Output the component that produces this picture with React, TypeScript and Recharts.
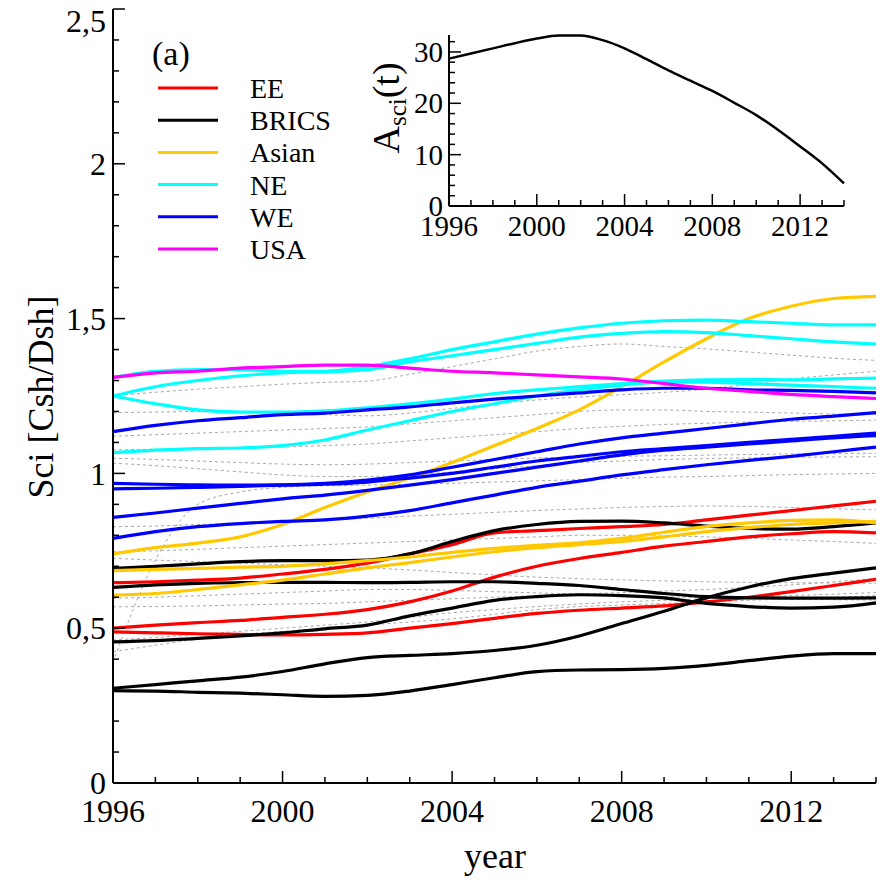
import { LineChart, Line, XAxis, YAxis } from "recharts"

const years = [1996, 1997, 1998, 1999, 2000, 2001, 2002, 2003, 2004, 2005, 2006, 2007, 2008, 2009, 2010, 2011, 2012, 2013, 2014]

// EE
const ee1 = [0.647, 0.65, 0.655, 0.662, 0.675, 0.69, 0.71, 0.74, 0.77, 0.808, 0.815, 0.822, 0.828, 0.835, 0.85, 0.865, 0.88, 0.895, 0.91]
const ee2 = [0.5, 0.51, 0.518, 0.525, 0.535, 0.545, 0.56, 0.585, 0.62, 0.665, 0.7, 0.725, 0.745, 0.765, 0.78, 0.795, 0.805, 0.812, 0.808]
const ee3 = [0.488, 0.485, 0.482, 0.48, 0.478, 0.48, 0.485, 0.5, 0.515, 0.532, 0.548, 0.558, 0.565, 0.572, 0.585, 0.6, 0.618, 0.638, 0.658]

// BRICS
const brics1 = [0.693, 0.7, 0.708, 0.715, 0.718, 0.718, 0.72, 0.74, 0.78, 0.815, 0.835, 0.845, 0.846, 0.84, 0.83, 0.822, 0.82, 0.828, 0.84]
const brics2 = [0.632, 0.64, 0.645, 0.647, 0.648, 0.648, 0.647, 0.648, 0.65, 0.65, 0.645, 0.638, 0.625, 0.612, 0.602, 0.598, 0.597, 0.597, 0.598]
const brics3 = [0.456, 0.46, 0.467, 0.475, 0.485, 0.498, 0.51, 0.54, 0.565, 0.59, 0.602, 0.608, 0.605, 0.598, 0.58, 0.57, 0.565, 0.568, 0.582]
const brics4 = [0.306, 0.318, 0.33, 0.342, 0.36, 0.385, 0.405, 0.412, 0.418, 0.428, 0.445, 0.475, 0.515, 0.555, 0.598, 0.633, 0.66, 0.678, 0.695]
const brics5 = [0.298, 0.297, 0.293, 0.29, 0.285, 0.28, 0.283, 0.297, 0.318, 0.34, 0.36, 0.365, 0.366, 0.37, 0.38, 0.395, 0.41, 0.418, 0.418]

// Asian
const asian1 = [0.74, 0.76, 0.775, 0.795, 0.835, 0.89, 0.94, 0.985, 1.035, 1.09, 1.145, 1.205, 1.28, 1.36, 1.435, 1.5, 1.54, 1.565, 1.572]
const asian2 = [0.686, 0.69, 0.693, 0.697, 0.7, 0.708, 0.718, 0.73, 0.745, 0.758, 0.768, 0.776, 0.79, 0.81, 0.828, 0.84, 0.848, 0.85, 0.84]
const asian3 = [0.607, 0.612, 0.625, 0.64, 0.655, 0.675, 0.695, 0.712, 0.73, 0.747, 0.76, 0.77, 0.78, 0.795, 0.812, 0.825, 0.835, 0.84, 0.845]

// NE
const ne1 = [1.31, 1.33, 1.335, 1.335, 1.33, 1.33, 1.345, 1.37, 1.4, 1.425, 1.45, 1.47, 1.485, 1.493, 1.495, 1.49, 1.485, 1.48, 1.48]
const ne2 = [1.25, 1.28, 1.3, 1.315, 1.325, 1.328, 1.335, 1.36, 1.38, 1.4, 1.42, 1.44, 1.452, 1.458, 1.455, 1.445, 1.435, 1.425, 1.418]
const ne3 = [1.25, 1.225, 1.205, 1.198, 1.198, 1.202, 1.212, 1.225, 1.24, 1.258, 1.27, 1.28, 1.29, 1.298, 1.302, 1.303, 1.302, 1.305, 1.308]
const ne4 = [1.067, 1.075, 1.08, 1.082, 1.09, 1.108, 1.14, 1.17, 1.2, 1.225, 1.25, 1.27, 1.285, 1.295, 1.295, 1.29, 1.285, 1.28, 1.275]

// WE
const we1 = [1.135, 1.155, 1.17, 1.18, 1.19, 1.195, 1.205, 1.215, 1.228, 1.24, 1.25, 1.26, 1.27, 1.275, 1.275, 1.27, 1.268, 1.265, 1.26]
const we2 = [0.968, 0.965, 0.963, 0.962, 0.963, 0.968, 0.978, 0.995, 1.02, 1.045, 1.07, 1.095, 1.115, 1.13, 1.145, 1.16, 1.175, 1.185, 1.196]
const we3 = [0.95, 0.952, 0.955, 0.958, 0.962, 0.965, 0.972, 0.985, 1.0, 1.02, 1.04, 1.055, 1.07, 1.08, 1.09, 1.1, 1.11, 1.12, 1.13]
const we4 = [0.858, 0.872, 0.888, 0.903, 0.918, 0.93, 0.945, 0.962, 0.98, 1.0, 1.02, 1.04, 1.06, 1.075, 1.085, 1.095, 1.105, 1.115, 1.122]
const we5 = [0.79, 0.812, 0.828, 0.838, 0.845, 0.85, 0.862, 0.88, 0.905, 0.93, 0.955, 0.975, 0.995, 1.012, 1.028, 1.042, 1.055, 1.07, 1.085]

// USA
const usa = [1.31, 1.325, 1.33, 1.34, 1.345, 1.35, 1.35, 1.34, 1.33, 1.325, 1.318, 1.312, 1.305, 1.29, 1.275, 1.265, 1.255, 1.248, 1.242]

// other countries (grey dotted)
const other1 = [1.25, 1.262, 1.272, 1.28, 1.288, 1.294, 1.298, 1.32, 1.345, 1.37, 1.395, 1.41, 1.418, 1.41, 1.402, 1.392, 1.382, 1.372, 1.365]
const other2 = [1.196, 1.198, 1.2, 1.198, 1.195, 1.19, 1.186, 1.195, 1.21, 1.225, 1.237, 1.247, 1.254, 1.262, 1.272, 1.288, 1.305, 1.318, 1.33]
const other3 = [1.12, 1.125, 1.13, 1.135, 1.14, 1.145, 1.15, 1.16, 1.17, 1.18, 1.19, 1.2, 1.205, 1.205, 1.2, 1.198, 1.195, 1.192, 1.19]
const other4 = [1.076, 1.078, 1.08, 1.082, 1.085, 1.09, 1.095, 1.105, 1.115, 1.125, 1.135, 1.145, 1.152, 1.158, 1.162, 1.166, 1.168, 1.17, 1.172]
const other5 = [1.049, 1.045, 1.04, 1.035, 1.03, 1.028, 1.03, 1.035, 1.04, 1.045, 1.05, 1.052, 1.055, 1.057, 1.059, 1.061, 1.063, 1.064, 1.065]
const other6 = [1.033, 1.025, 1.015, 1.005, 0.995, 0.99, 0.99, 0.995, 1.005, 1.015, 1.025, 1.035, 1.04, 1.045, 1.048, 1.05, 1.052, 1.053, 1.054]
const other7 = [0.39, 0.72, 0.9, 0.94, 0.955, 0.96, 0.962, 0.965, 0.968, 0.972, 0.976, 0.98, 0.984, 0.988, 0.99, 0.993, 0.996, 0.998, 1.0]
const other8 = [0.828, 0.83, 0.835, 0.84, 0.845, 0.85, 0.855, 0.862, 0.868, 0.874, 0.88, 0.885, 0.89, 0.893, 0.895, 0.893, 0.89, 0.886, 0.882]
const other9 = [0.747, 0.75, 0.755, 0.76, 0.765, 0.77, 0.775, 0.78, 0.785, 0.79, 0.795, 0.8, 0.8, 0.798, 0.795, 0.79, 0.785, 0.78, 0.774]
const other10 = [0.726, 0.72, 0.715, 0.71, 0.705, 0.7, 0.695, 0.688, 0.68, 0.672, 0.665, 0.66, 0.656, 0.653, 0.65, 0.648, 0.647, 0.646, 0.645]
const other11 = [0.597, 0.6, 0.605, 0.61, 0.615, 0.62, 0.625, 0.625, 0.622, 0.618, 0.614, 0.61, 0.606, 0.602, 0.598, 0.595, 0.593, 0.592, 0.591]
const other12 = [0.569, 0.57, 0.572, 0.575, 0.578, 0.58, 0.585, 0.59, 0.595, 0.6, 0.605, 0.61, 0.615, 0.62, 0.625, 0.632, 0.64, 0.65, 0.66]
const other13 = [0.462, 0.47, 0.48, 0.49, 0.5, 0.51, 0.52, 0.535, 0.55, 0.56, 0.57, 0.578, 0.585, 0.59, 0.595, 0.6, 0.605, 0.61, 0.615]
const other14 = [0.424, 0.445, 0.465, 0.48, 0.49, 0.5, 0.51, 0.52, 0.53, 0.545, 0.56, 0.57, 0.575, 0.58, 0.585, 0.59, 0.595, 0.6, 0.605]

// inset: A_sci(t)
const asci = [28.7, 29.7, 30.7, 31.7, 32.6, 33.2, 33.2, 32.3, 30.7, 28.6, 26.4, 24.4, 22.4, 20.1, 17.7, 14.8, 11.6, 8.3, 4.4]

const yearTicks = years
const yTicks = Array.from({ length: 26 }, (_, i) => i / 10)
const insetYTicks = [0, 2, 4, 6, 8, 10, 12, 14, 16, 18, 20, 22, 24, 26, 28, 30, 32]

const groups = [
  { name: "EE", color: "#ff0000", series: [ee1, ee2, ee3] },
  { name: "BRICS", color: "#000000", series: [brics1, brics2, brics3, brics4, brics5] },
  { name: "Asian", color: "#ffc800", series: [asian1, asian2, asian3] },
  { name: "NE", color: "#00ffff", series: [ne1, ne2, ne3, ne4] },
  { name: "WE", color: "#0000ff", series: [we1, we2, we3, we4, we5] },
  { name: "USA", color: "#ff00ff", series: [usa] },
]
const others = [other1, other2, other3, other4, other5, other6, other7, other8, other9, other10, other11, other12, other13, other14]

const FONT = '"Liberation Serif", "Times New Roman", serif'

const chartData = years.map((year, i) => {
  const row: Record<string, number> = { year }
  others.forEach((s, j) => { row[`o${j}`] = s[i] })
  groups.forEach((g) => g.series.forEach((s, j) => { row[`${g.name}${j}`] = s[i] }))
  return row
})
const insetData = years.map((year, i) => ({ year, asci: asci[i] }))

const fmtY = (v: number) => String(v).replace(".", ",")
const isHalf = (v: number) => Math.round(v * 10) % 5 === 0

function BottomTick({ x, y, payload, fontSize = 32, every = 4, major = 12, minor = 6, dy = 39 }: any) {
  const big = payload.value % every === 0
  return (
    <g>
      <line x1={x} x2={x} y1={y} y2={y - (big ? major : minor)} stroke="#000" strokeWidth={1.5} />
      {big && (
        <text x={x} y={y + dy} textAnchor="middle" fontFamily={FONT} fontSize={fontSize} fill="#000">
          {payload.value}
        </text>
      )}
    </g>
  )
}

function TopTick({ x, y, payload, every = 4, major = 12, minor = 6 }: any) {
  const big = payload.value % every === 0
  return <line x1={x} x2={x} y1={y} y2={y + (big ? major : minor)} stroke="#000" strokeWidth={1.5} />
}

function LeftTick({ x, y, payload }: any) {
  const big = isHalf(payload.value)
  // the top label sits just below the frame so it is not cut off
  const ly = payload.value >= 2.5 ? y + 12 : y
  return (
    <g>
      <line x1={x} x2={x + (big ? 12 : 6)} y1={y} y2={y} stroke="#000" strokeWidth={1.5} />
      {big && (
        <text x={x - 7} y={ly} dy="0.35em" textAnchor="end" fontFamily={FONT} fontSize={32} fill="#000">
          {fmtY(payload.value)}
        </text>
      )}
    </g>
  )
}

function RightTick({ x, y, payload }: any) {
  const big = isHalf(payload.value)
  return <line x1={x} x2={x - (big ? 12 : 6)} y1={y} y2={y} stroke="#000" strokeWidth={1.5} />
}

function InsetLeftTick({ x, y, payload }: any) {
  const big = payload.value % 10 === 0
  return (
    <g>
      <line x1={x} x2={x + (big ? 12 : 6)} y1={y} y2={y} stroke="#000" strokeWidth={1.5} />
      {big && (
        <text x={x - 6} y={y} dy="0.35em" textAnchor="end" fontFamily={FONT} fontSize={29} fill="#000">
          {payload.value}
        </text>
      )}
    </g>
  )
}

function InsetRightTick({ x, y, payload }: any) {
  const big = payload.value % 10 === 0
  return <line x1={x} x2={x - (big ? 12 : 6)} y1={y} y2={y} stroke="#000" strokeWidth={1.5} />
}

function MainChart() {
  return (
    <LineChart width={886} height={886} data={chartData} margin={{ top: 9, right: 10, bottom: 43, left: 33 }}>
      <XAxis xAxisId="b" dataKey="year" type="number" domain={[1996, 2014]} ticks={yearTicks} interval={0}
        height={60} tickSize={0} tickMargin={0} tickLine={false} axisLine={{ stroke: "#000", strokeWidth: 2 }}
        tick={<BottomTick />} />
      <XAxis xAxisId="t" orientation="top" dataKey="year" type="number" domain={[1996, 2014]} ticks={yearTicks} interval={0}
        height={0} tickSize={0} tickMargin={0} tickLine={false} axisLine={{ stroke: "#000", strokeWidth: 2 }}
        tick={<TopTick />} />
      <YAxis yAxisId="l" type="number" domain={[0, 2.5]} ticks={yTicks} interval={0} width={80}
        tickSize={0} tickMargin={0} tickLine={false} axisLine={{ stroke: "#000", strokeWidth: 2 }}
        tick={<LeftTick />} />
      <YAxis yAxisId="r" orientation="right" type="number" domain={[0, 2.5]} ticks={yTicks} interval={0} width={0}
        tickSize={0} tickMargin={0} tickLine={false} axisLine={{ stroke: "#000", strokeWidth: 2 }}
        tick={<RightTick />} />
      {others.map((_, j) => (
        <Line key={`o${j}`} xAxisId="b" yAxisId="l" type="monotone" dataKey={`o${j}`} stroke="#a8a8a8"
          strokeWidth={1} strokeDasharray="3 3" dot={false} activeDot={false} isAnimationActive={false} />
      ))}
      {groups.map((g) =>
        g.series.map((_, j) => (
          <Line key={`${g.name}${j}`} xAxisId="b" yAxisId="l" type="monotone" dataKey={`${g.name}${j}`}
            stroke={g.color} strokeWidth={3.2} dot={false} activeDot={false} isAnimationActive={false} />
        ))
      )}
    </LineChart>
  )
}

function InsetChart() {
  return (
    <LineChart width={886} height={250} data={insetData} margin={{ top: 35, right: 42, bottom: 4, left: 389 }}>
      <XAxis xAxisId="b" dataKey="year" type="number" domain={[1996, 2014]} ticks={yearTicks} interval={0}
        height={40} tickSize={0} tickMargin={0} tickLine={false} axisLine={{ stroke: "#000", strokeWidth: 2 }}
        tick={<BottomTick fontSize={29} dy={30} />} />
      <XAxis xAxisId="t" orientation="top" dataKey="year" type="number" domain={[1996, 2014]} ticks={yearTicks} interval={0}
        height={0} tickSize={0} tickMargin={0} tickLine={false} axisLine={{ stroke: "#000", strokeWidth: 2 }}
        tick={<TopTick />} />
      <YAxis yAxisId="l" type="number" domain={[0, 33.3]} ticks={insetYTicks} interval={0} width={60}
        tickSize={0} tickMargin={0} tickLine={false} axisLine={{ stroke: "#000", strokeWidth: 2 }}
        tick={<InsetLeftTick />} />
      <YAxis yAxisId="r" orientation="right" type="number" domain={[0, 33.3]} ticks={insetYTicks} interval={0} width={0}
        tickSize={0} tickMargin={0} tickLine={false} axisLine={{ stroke: "#000", strokeWidth: 2 }}
        tick={<InsetRightTick />} />
      <Line xAxisId="b" yAxisId="l" type="monotone" dataKey="asci" stroke="#000" strokeWidth={2.5}
        dot={false} activeDot={false} isAnimationActive={false} />
    </LineChart>
  )
}

function Annotations() {
  return (
    <svg width={886} height={886} style={{ position: "absolute", left: 0, top: 0, pointerEvents: "none" }}>
      <g fontFamily={FONT} fill="#000">
        <text x={495} y={868} textAnchor="middle" fontSize={36}>year</text>
        <text transform="translate(53,397) rotate(-90)" textAnchor="middle" fontSize={36}>Sci [Csh/Dsh]</text>
        <text x={152} y={65} fontSize={34}>(a)</text>
        <text transform="translate(399,108) rotate(-90)" textAnchor="middle" fontSize={38}>
          A<tspan fontSize={25} dy={7}>sci</tspan><tspan dy={-7}>(t)</tspan>
        </text>
        {groups.map((g, i) => (
          <g key={g.name}>
            <line x1={158} x2={218} y1={88 + i * 32.2} y2={88 + i * 32.2} stroke={g.color} strokeWidth={3} />
            <text x={250} y={88 + i * 32.2 + 10} fontSize={28}>{g.name}</text>
          </g>
        ))}
      </g>
    </svg>
  )
}

export default function App() {
  return (
    <div style={{ position: "absolute", left: 0, top: 0, width: 886, height: 886, background: "#fff" }}>
      <div style={{ position: "absolute", left: 0, top: 0 }}>
        <MainChart />
      </div>
      <div style={{ position: "absolute", left: 0, top: 0 }}>
        <InsetChart />
      </div>
      <Annotations />
    </div>
  )
}
